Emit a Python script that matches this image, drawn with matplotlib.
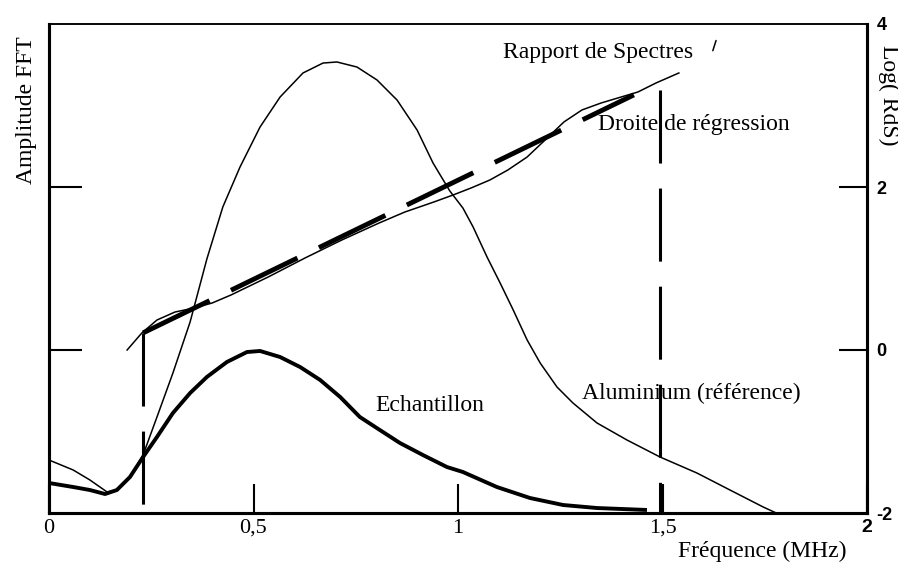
import matplotlib
matplotlib.use('Agg')
import matplotlib.pyplot as plt

# Amplitude FFT (left scale, arbitrary units 0..6)
alu_f = [0.000, 0.059, 0.100, 0.142, 0.166, 0.198, 0.230, 0.264, 0.303, 0.345,
         0.386, 0.425, 0.467, 0.516, 0.565, 0.621, 0.670, 0.704, 0.753, 0.802,
         0.851, 0.900, 0.939, 0.980, 1.012, 1.037, 1.071, 1.103, 1.135, 1.169,
         1.201, 1.242, 1.281, 1.340, 1.413, 1.494, 1.584, 1.665, 1.746, 1.778]
alu_a = [0.650, 0.528, 0.405, 0.258, 0.282, 0.442, 0.712, 1.178, 1.718, 2.344,
         3.117, 3.755, 4.245, 4.736, 5.104, 5.399, 5.521, 5.534, 5.472, 5.313,
         5.067, 4.699, 4.294, 3.951, 3.742, 3.509, 3.141, 2.822, 2.491, 2.123,
         1.840, 1.546, 1.350, 1.104, 0.896, 0.687, 0.491, 0.282, 0.074, 0.000]

ech_f = [0.000, 0.059, 0.100, 0.137, 0.166, 0.198, 0.230, 0.264, 0.303, 0.345,
         0.386, 0.435, 0.484, 0.516, 0.565, 0.614, 0.663, 0.712, 0.760, 0.809,
         0.858, 0.914, 0.973, 1.012, 1.095, 1.176, 1.257, 1.340, 1.462]
ech_a = [0.368, 0.319, 0.282, 0.233, 0.282, 0.442, 0.687, 0.933, 1.227, 1.472,
         1.669, 1.853, 1.975, 1.988, 1.914, 1.791, 1.632, 1.423, 1.178, 1.018,
         0.859, 0.712, 0.564, 0.503, 0.319, 0.184, 0.098, 0.061, 0.037]

# Log(RdS) (right scale)
rds_f = [0.191, 0.227, 0.264, 0.308, 0.355, 0.399, 0.445, 0.536, 0.626, 0.716,
         0.807, 0.870, 0.941, 0.988, 1.032, 1.078, 1.122, 1.169, 1.213, 1.259,
         1.303, 1.350, 1.440, 1.484, 1.540]
rds_v = [0.000, 0.209, 0.368, 0.466, 0.515, 0.577, 0.675, 0.896, 1.129, 1.350,
         1.558, 1.693, 1.816, 1.902, 1.988, 2.086, 2.209, 2.368, 2.577, 2.798,
         2.945, 3.031, 3.166, 3.276, 3.399]

# droite de regression et bornes de l'intervalle
reg_f = [0.23, 1.43]
reg_v = [0.21, 3.13]
borne_f = [0.23, 1.494]
borne_top = [0.21, 3.19]

xticks = [0, 0.5, 1, 1.5, 2]
xlabels = ['0', '0,5', '1', '1,5', '2']
rticks = [-2, 0, 2, 4]

serif = 'Liberation Serif'
plt.rcParams['font.family'] = serif

fig = plt.figure(figsize=(8.98, 5.64), dpi=100)
ax = fig.add_axes([49 / 898, 51 / 564, 818 / 898, 489 / 564])
ax2 = ax.twinx()

ax.plot(alu_f, alu_a, color='black', lw=1.1, solid_joinstyle='round')
ax.plot(ech_f, ech_a, color='black', lw=2.8, solid_capstyle='butt',
        solid_joinstyle='round')
ax2.plot(rds_f, rds_v, color='black', lw=1.1, solid_joinstyle='round')
ax2.plot(reg_f, reg_v, color='black', lw=3.5, dashes=(15.2, 4.9), dash_capstyle='butt')
for f, top in zip(borne_f, borne_top):
    ax2.plot([f, f], [top, -2], color='black', lw=2.2, dashes=(23.9, 8.2),
             dash_capstyle='butt')

ax.set_xlim(0, 2)
ax.set_ylim(0, 6)
ax2.set_ylim(-2, 4)

ax.set_xticks(xticks)
ax.set_xticklabels(xlabels, fontsize=16)
ax.xaxis.get_ticklabels()[-1].set_fontfamily('Liberation Sans')
ax.xaxis.get_ticklabels()[-1].set_fontweight('bold')
ax.xaxis.get_ticklabels()[-1].set_fontsize(14)
ax.tick_params(axis='x', direction='in', length=21, width=1.5, pad=4)
ax.set_yticks([2, 4])
ax.tick_params(axis='y', direction='in', length=24, width=1.5, labelleft=False)

ax2.set_yticks(rticks)
ax2.set_yticklabels([str(t) for t in rticks], fontfamily='Liberation Sans',
                    fontweight='bold', fontsize=13)
ax2.tick_params(axis='y', direction='in', length=20, width=1.5, pad=7)
for t in [ax2.yaxis.get_major_ticks()[0], ax2.yaxis.get_major_ticks()[-1]]:
    t.tick2line.set_visible(False)

for a in (ax, ax2):
    for side in ('left', 'bottom', 'right'):
        a.spines[side].set_linewidth(2.2)
    a.spines['top'].set_linewidth(1.1)

ts = 17
ax2.text(1.110, 3.656, 'Rapport de Spectres', fontsize=ts, ha='left', va='center')
ax2.annotate('', xy=(1.633, 3.83), xytext=(1.621, 3.64),
             arrowprops=dict(arrowstyle='-', lw=1.1, color='black'))
ax2.text(1.342, 2.761, 'Droite de régression', fontsize=ts, ha='left', va='center')
ax2.text(0.797, -0.687, 'Echantillon', fontsize=ts, ha='left', va='center')
ax2.text(1.303, -0.528, 'Aluminium (référence)', fontsize=ts, ha='left', va='center')

fig.text(678 / 898, 1 - 551 / 564, 'Fréquence (MHz)', fontsize=ts, ha='left', va='center')
fig.text(27 / 898, 1 - 110 / 564, 'Amplitude FFT', fontsize=ts, rotation=90,
         ha='center', va='center')
fig.text(889 / 898, 1 - 95 / 564, 'Log( RdS)', fontsize=ts, rotation=270,
         ha='center', va='center')

fig.savefig('out.png', dpi=100)
